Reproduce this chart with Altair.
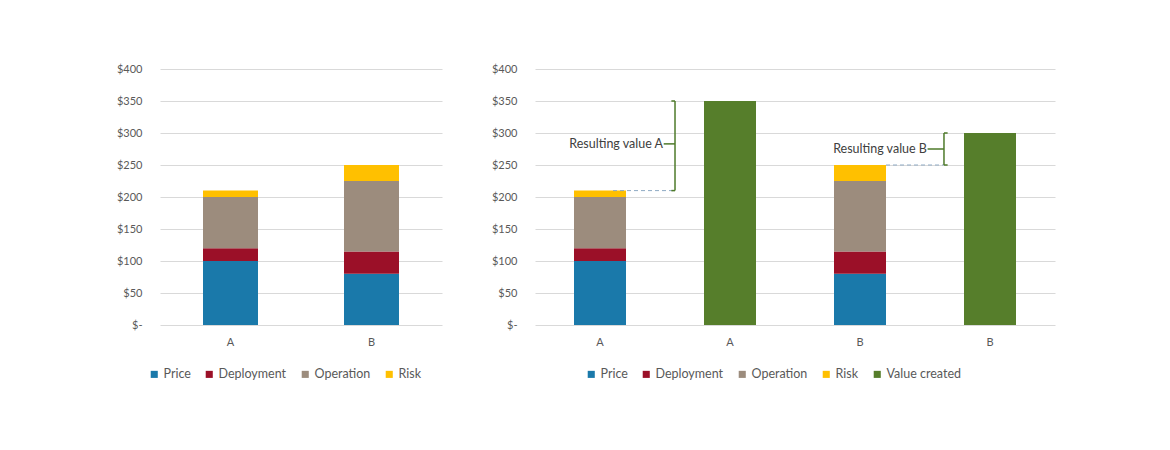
import altair as alt
import pandas as pd

# ---- data ----
components = ["Price", "Deployment", "Operation", "Risk"]
solutions = ["A", "B"]
price = [100, 80]
deployment = [20, 35]
operation = [80, 110]
risk = [10, 25]
value_created = [350, 300]
ann_labels = ["Resulting value A", "Resulting value B"]
y_ticks = [0, 50, 100, 150, 200, 250, 300, 350, 400]

comp_colors = ["#1A79AA", "#9B1028", "#9C8C7D", "#FFC000"]
value_color = "#567E2B"
FONT = "Lato"
LABEL_COLOR = "#595959"
GRID = "#D9D9D9"

series = [price, deployment, operation, risk]

# left chart data
left_rows = []
for i, s in enumerate(solutions):
    for k, c in enumerate(components):
        left_rows.append({"sol": s, "comp": c, "val": series[k][i], "ord": k})
left_df = pd.DataFrame(left_rows)

# right chart data: each solution gets a stacked column and a value column
right_rows = []
for i, s in enumerate(solutions):
    for k, c in enumerate(components):
        right_rows.append({"key": s + "1", "comp": c, "val": series[k][i], "ord": k})
    right_rows.append({"key": s + "2", "comp": "Value created", "val": value_created[i], "ord": 0})
right_df = pd.DataFrame(right_rows)
right_keys = [s + n for s in solutions for n in ("1", "2")]

yaxis = alt.Axis(values=y_ticks, labelExpr="datum.value == 0 ? '$-' : '$' + datum.value",
                 grid=True, gridColor=GRID, domain=False, ticks=False, labelPadding=18,
                 labelColor=LABEL_COLOR, labelFontSize=11, labelFont=FONT, title=None)
yscale = alt.Scale(domain=[0, 400], nice=False)


def legend(x, y):
    return alt.Legend(orient="none", legendX=x, legendY=y, direction="horizontal", title=None,
                      symbolType="square", symbolSize=50, symbolStrokeWidth=0,
                      labelFontSize=12.5, labelColor=LABEL_COLOR, labelFont=FONT,
                      columnPadding=12, labelOffset=3)


left = alt.Chart(left_df).mark_bar().encode(
    x=alt.X("sol:N", sort=solutions, title=None,
            scale=alt.Scale(paddingInner=0.61, paddingOuter=0.305),
            axis=alt.Axis(labelAngle=0, domain=False, ticks=False, labelPadding=11,
                          labelColor=LABEL_COLOR, labelFontSize=11, labelFont=FONT)),
    y=alt.Y("val:Q", stack="zero", scale=yscale, axis=yaxis),
    color=alt.Color("comp:N", scale=alt.Scale(domain=components, range=comp_colors),
                    legend=legend(-12, 299)),
    order=alt.Order("ord:Q"),
).properties(width=282, height=256)

bars = alt.Chart(right_df).mark_bar().encode(
    x=alt.X("key:N", sort=right_keys, title=None,
            scale=alt.Scale(paddingInner=0.6, paddingOuter=0.3),
            axis=alt.Axis(labelAngle=0, domain=False, ticks=False, labelPadding=11,
                          labelExpr="slice(datum.label, 0, 1)",
                          labelColor=LABEL_COLOR, labelFontSize=11, labelFont=FONT)),
    y=alt.Y("val:Q", stack="zero", scale=yscale, axis=yaxis),
    color=alt.Color("comp:N", scale=alt.Scale(domain=components + ["Value created"],
                                              range=comp_colors + [value_color]),
                    legend=legend(50, 299)),
    order=alt.Order("ord:Q"),
)

# annotations (positions in band units of the 4-column layout)
totals = [sum(s[i] for s in series) for i in range(len(solutions))]
bracket_x = [1.077, 3.146]
dash_x0 = [0.6, 2.7]
text_x = [0.985, 3.015]
hook_dir = [-1, 1]
h = 0.028

seg = []
dash = []
txt = []
for i in range(len(solutions)):
    lo, hi = totals[i], value_created[i]
    mid = (lo + hi) / 2 + (3 if i == 0 else 0)
    bx = bracket_x[i]
    seg.append({"x": bx, "x2": bx, "val": lo, "val2": hi})
    seg.append({"x": bx, "x2": bx + hook_dir[i] * h, "val": lo, "val2": lo})
    seg.append({"x": bx, "x2": bx + hook_dir[i] * h, "val": hi, "val2": hi})
    seg.append({"x": text_x[i] + 0.005, "x2": bx, "val": mid, "val2": mid})
    dash.append({"x": dash_x0[i], "x2": bx, "val": lo, "val2": lo})
    txt.append({"x": text_x[i], "val": mid, "label": ann_labels[i]})

xq = alt.Scale(domain=[0, 4], nice=False, zero=False)

seg_layer = alt.Chart(pd.DataFrame(seg)).mark_rule(color="#4E7A2A", strokeWidth=1.5).encode(
    x=alt.X("x:Q", scale=xq, axis=None), x2="x2:Q",
    y=alt.Y("val:Q", scale=yscale, axis=yaxis), y2="val2:Q",
)
dash_layer = alt.Chart(pd.DataFrame(dash)).mark_rule(color="#8FAAC4", strokeWidth=1,
                                                     strokeDash=[4, 3]).encode(
    x=alt.X("x:Q", scale=xq, axis=None), x2="x2:Q",
    y=alt.Y("val:Q", scale=yscale, axis=yaxis), y2="val2:Q",
)
txt_layer = alt.Chart(pd.DataFrame(txt)).mark_text(align="right", baseline="middle",
                                                   font=FONT, fontSize=12.5, color="#404040").encode(
    x=alt.X("x:Q", scale=xq, axis=None),
    y=alt.Y("val:Q", scale=yscale, axis=yaxis),
    text="label:N",
)

right = alt.layer(bars, dash_layer, seg_layer, txt_layer).resolve_scale(x="independent").properties(
    width=520, height=256)

chart = alt.hconcat(left, right, spacing=49).resolve_scale(color="independent").properties(
    padding={"left": 108, "top": 55, "right": 5, "bottom": 5}
).configure_view(stroke=None)

chart.save("out.html", embed_options={"renderer": "svg", "actions": False})
